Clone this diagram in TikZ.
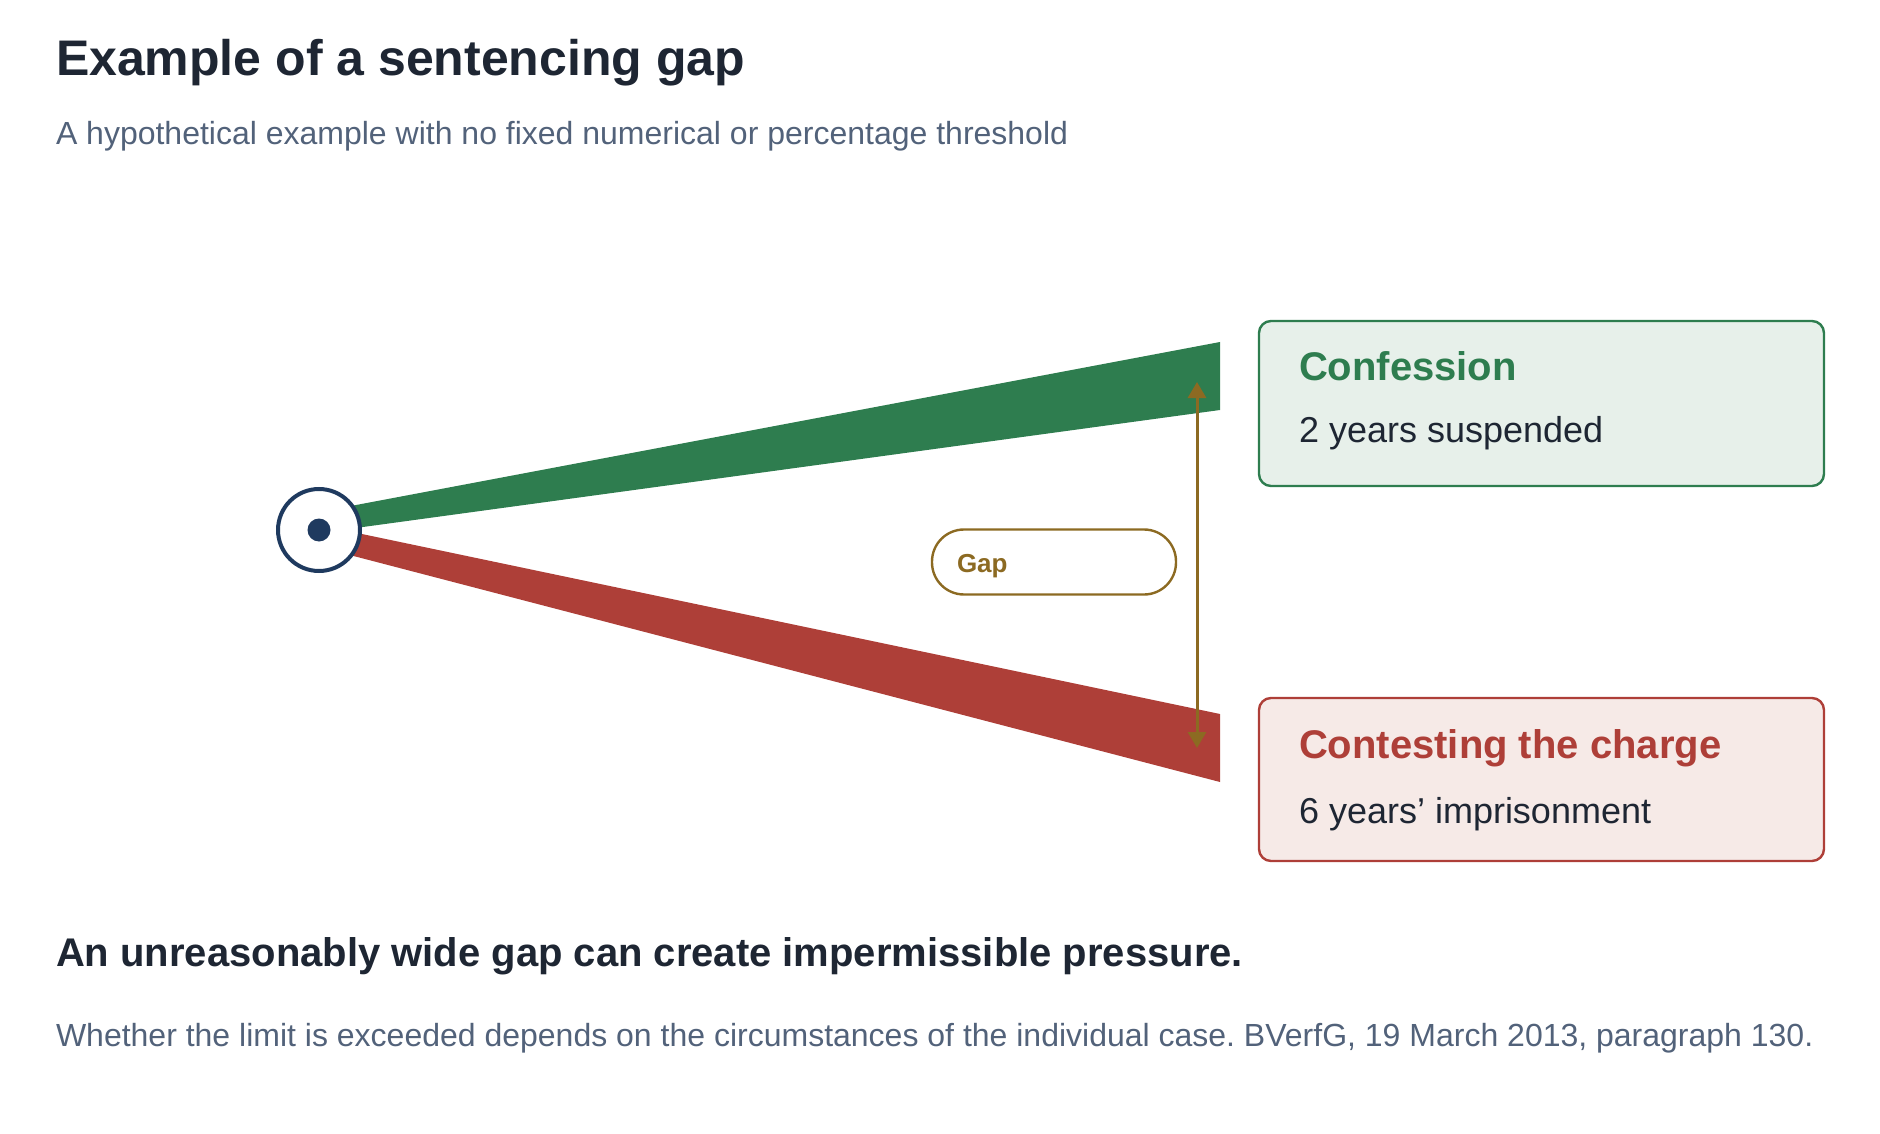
\documentclass[tikz,border=0pt]{standalone}
\usepackage{fontspec}
\setmainfont{Liberation Sans}
\usetikzlibrary{arrows.meta}
\definecolor{titlec}{HTML}{1E2633}
\definecolor{subc}{HTML}{52627A}
\definecolor{greenc}{HTML}{2E7D4F}
\definecolor{greenfill}{HTML}{E7F0EA}
\definecolor{redc}{HTML}{AE3F38}
\definecolor{redfill}{HTML}{F6EAE7}
\definecolor{brownc}{HTML}{8C6A22}
\definecolor{navyc}{HTML}{1F3A5F}
\frenchspacing
\tikzset{
  txt/.style={anchor=base west, inner sep=0pt, outer sep=0pt},
  resultbox/.style={draw, line width=1.2pt, rounded corners=6pt, minimum width=282.5pt, inner sep=0pt},
  pill/.style={draw=brownc, line width=1.2pt, fill=white, rounded corners=16pt, minimum width=122pt, minimum height=32.5pt, inner sep=0pt},
  gaparrow/.style={draw=brownc, line width=1.5pt, {Triangle[length=8pt,width=9pt]}-{Triangle[length=8pt,width=9pt]}}
}
\begin{document}
\begin{tikzpicture}[x=0.5pt,y=-0.5pt]
\useasboundingbox (0,0) rectangle (1880,1134);
% titles
\node[txt, font=\bfseries\fontsize{25pt}{30pt}\selectfont, text=titlec] (title) at (56,76) {Example of a sentencing gap};
\node[txt, font=\fontsize{16pt}{19pt}\selectfont, text=subc] (subtitle) at (56,145) {A hypothetical example with no fixed numerical or percentage threshold};
% bands
\coordinate (gL1) at (319,512); \coordinate (gR1) at (1220,342);
\coordinate (gR2) at (1220,410); \coordinate (gL2) at (319,533);
\coordinate (rL1) at (319,525); \coordinate (rR1) at (1220,714);
\coordinate (rR2) at (1220,782); \coordinate (rL2) at (319,547);
\fill[greenc] (gL1) -- (gR1) -- (gR2) -- (gL2) -- cycle;
\fill[redc] (rL1) -- (rR1) -- (rR2) -- (rL2) -- cycle;
% origin
\node[circle, draw=navyc, fill=white, line width=2pt, minimum size=41pt, inner sep=0pt] (origin) at (319,530) {};
\node[circle, fill=navyc, minimum size=11.5pt, inner sep=0pt] (dot) at (origin.center) {};
% gap arrow
\coordinate (gtop) at (1197,382);
\coordinate (gbot) at (1197,748);
\draw[gaparrow] (gtop) -- (gbot);
% gap pill
\node[pill] (gap) at (1054,562) {};
\node[txt, font=\bfseries\fontsize{13pt}{15pt}\selectfont, text=brownc] (gaplabel) at (957,572) {Gap};
% boxes
\node[resultbox, draw=greenc, fill=greenfill, minimum height=82.5pt] (conf) at (1541.5,403.5) {};
\node[txt, font=\bfseries\fontsize{20pt}{24pt}\selectfont, text=greenc] (confT) at (1299,380) {Confession};
\node[txt, font=\fontsize{18pt}{22pt}\selectfont, text=titlec] (confS) at (1299,442) {2 years suspended};
\node[resultbox, draw=redc, fill=redfill, minimum height=81.5pt] (cont) at (1541.5,779.5) {};
\node[txt, font=\bfseries\fontsize{20pt}{24pt}\selectfont, text=redc] (contT) at (1299,758) {Contesting the charge};
\node[txt, font=\fontsize{18pt}{22pt}\selectfont, text=titlec] (contS) at (1299,823) {6 years’ imprisonment};
% bottom text
\node[txt, font=\bfseries\fontsize{20pt}{24pt}\selectfont, text=titlec] (concl) at (56,966) {An unreasonably wide gap can create impermissible pressure.};
\node[txt, font=\fontsize{16pt}{19pt}\selectfont, text=subc] (foot) at (56,1046) {Whether the limit is exceeded depends on the circumstances of the individual case. BVerfG, 19 March 2013, paragraph 130.};
\end{tikzpicture}
\end{document}
